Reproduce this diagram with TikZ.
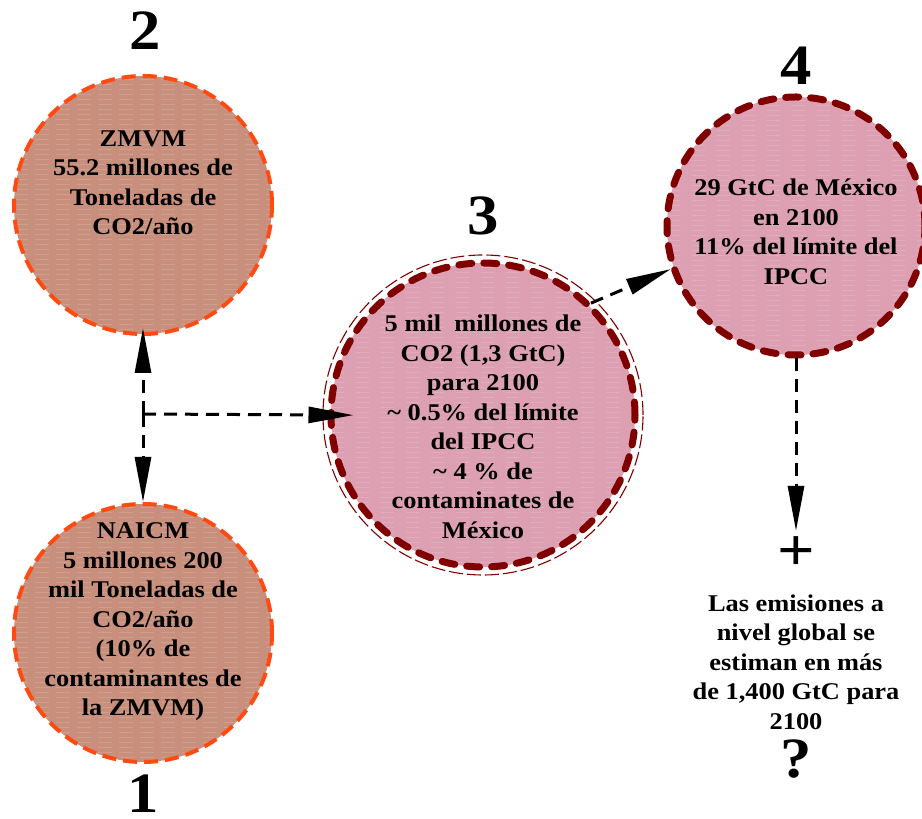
\documentclass[tikz,border=0pt]{standalone}
\usepackage{fontspec}
\setmainfont[FakeStretch=1.1]{Liberation Serif}
\usetikzlibrary{arrows.meta}
\definecolor{brownfill}{RGB}{200,144,124}
\definecolor{pinkfill}{RGB}{220,160,178}
\definecolor{orangeline}{RGB}{255,74,18}
\definecolor{darkline}{RGB}{128,0,0}

\begin{document}
\begin{tikzpicture}[x=1pt, y=1pt,
  streaks/.style={path picture={\foreach \k in {0,5,...,330}
    \draw[white, opacity=.14, line width=.8pt] ([yshift=\k pt]path picture bounding box.south west) -- ([yshift=\k pt]path picture bounding box.south east);}},
  smallcirc/.style={circle, minimum size=258pt, fill=brownfill, draw=orangeline, line width=4pt, dash pattern=on 14pt off 7pt, streaks},
  bigcirc/.style={circle, minimum size=#1, fill=pinkfill, draw=darkline, line width=7pt, line cap=round, dash pattern=on 13pt off 12pt, streaks},
  circtext/.style={font=\bfseries\fontsize{24}{29.5}\selectfont, align=center, inner sep=0pt},
  num/.style={font=\bfseries\fontsize{57}{60}\selectfont, anchor=base, inner sep=0pt, text depth=0pt},
  conn/.style={line width=3pt, dash pattern=on 13pt off 8pt, -{Triangle[length=45pt,width=16pt]}}]
  \useasboundingbox (0,0) rectangle (922,819);
  % circles
  \node[smallcirc] (c2) at (143,614) {};
  \node[smallcirc] (c1) at (143,186) {};
  \draw[darkline, line width=1.1pt, dash pattern=on 14pt off 4pt] (483,404) circle (160);
  \node[bigcirc=304pt] (c3) at (483,404) {};
  \node[bigcirc=258pt] (c4) at (796,593) {};
  % numbers
  \node[num] (n2) at (145,769) {2};
  \node[num] (n1) at (143,6) {1};
  \node[num] (n3) at (483,584) {3};
  \node[num] (n4) at (796,734) {4};
  % texts
  \node[circtext] (t2) at ([yshift=22]c2.center) {ZMVM\\55.2 millones de\\Toneladas de\\CO2/año};
  \node[circtext] (t1) at ([yshift=11]c1.center) {NAICM\\5 millones 200\\mil Toneladas de\\CO2/año\\(10\% de\\contaminantes de\\la ZMVM)};
  \node[circtext] (t3) at ([yshift=-12]c3.center) {5 mil~ millones de\\CO2 (1,3 GtC)\\para 2100\\\textasciitilde{} 0.5\% del límite\\del IPCC\\\textasciitilde{} 4 \% de\\contaminates de\\México};
  \node[circtext] (t4) at ([yshift=-6]c4.center) {29 GtC de México\\en 2100\\11\% del límite del\\IPCC};
  \node[circtext] (global) at (796,157) {Las emisiones a\\nivel global se\\estiman en más\\de 1,400 GtC para\\2100};
  \node[num, font=\bfseries\fontsize{60}{62}\selectfont] (plus) at (796,248) {+};
  \node[num] (quest) at (796,41) {?};
  % connectors
  \coordinate (j) at (143,405);
  \draw[conn, shorten >=-8pt] (j) -- (c2.south);
  \draw[conn] (j) -- (c1.north);
  \draw[conn, shorten >=-26pt] (j) -- (c3.west);
  \draw[conn] (c3.46) -- (c4.199);
  \draw[conn, shorten >=6pt] (c4.south) -- (plus.north);
\end{tikzpicture}
\end{document}
